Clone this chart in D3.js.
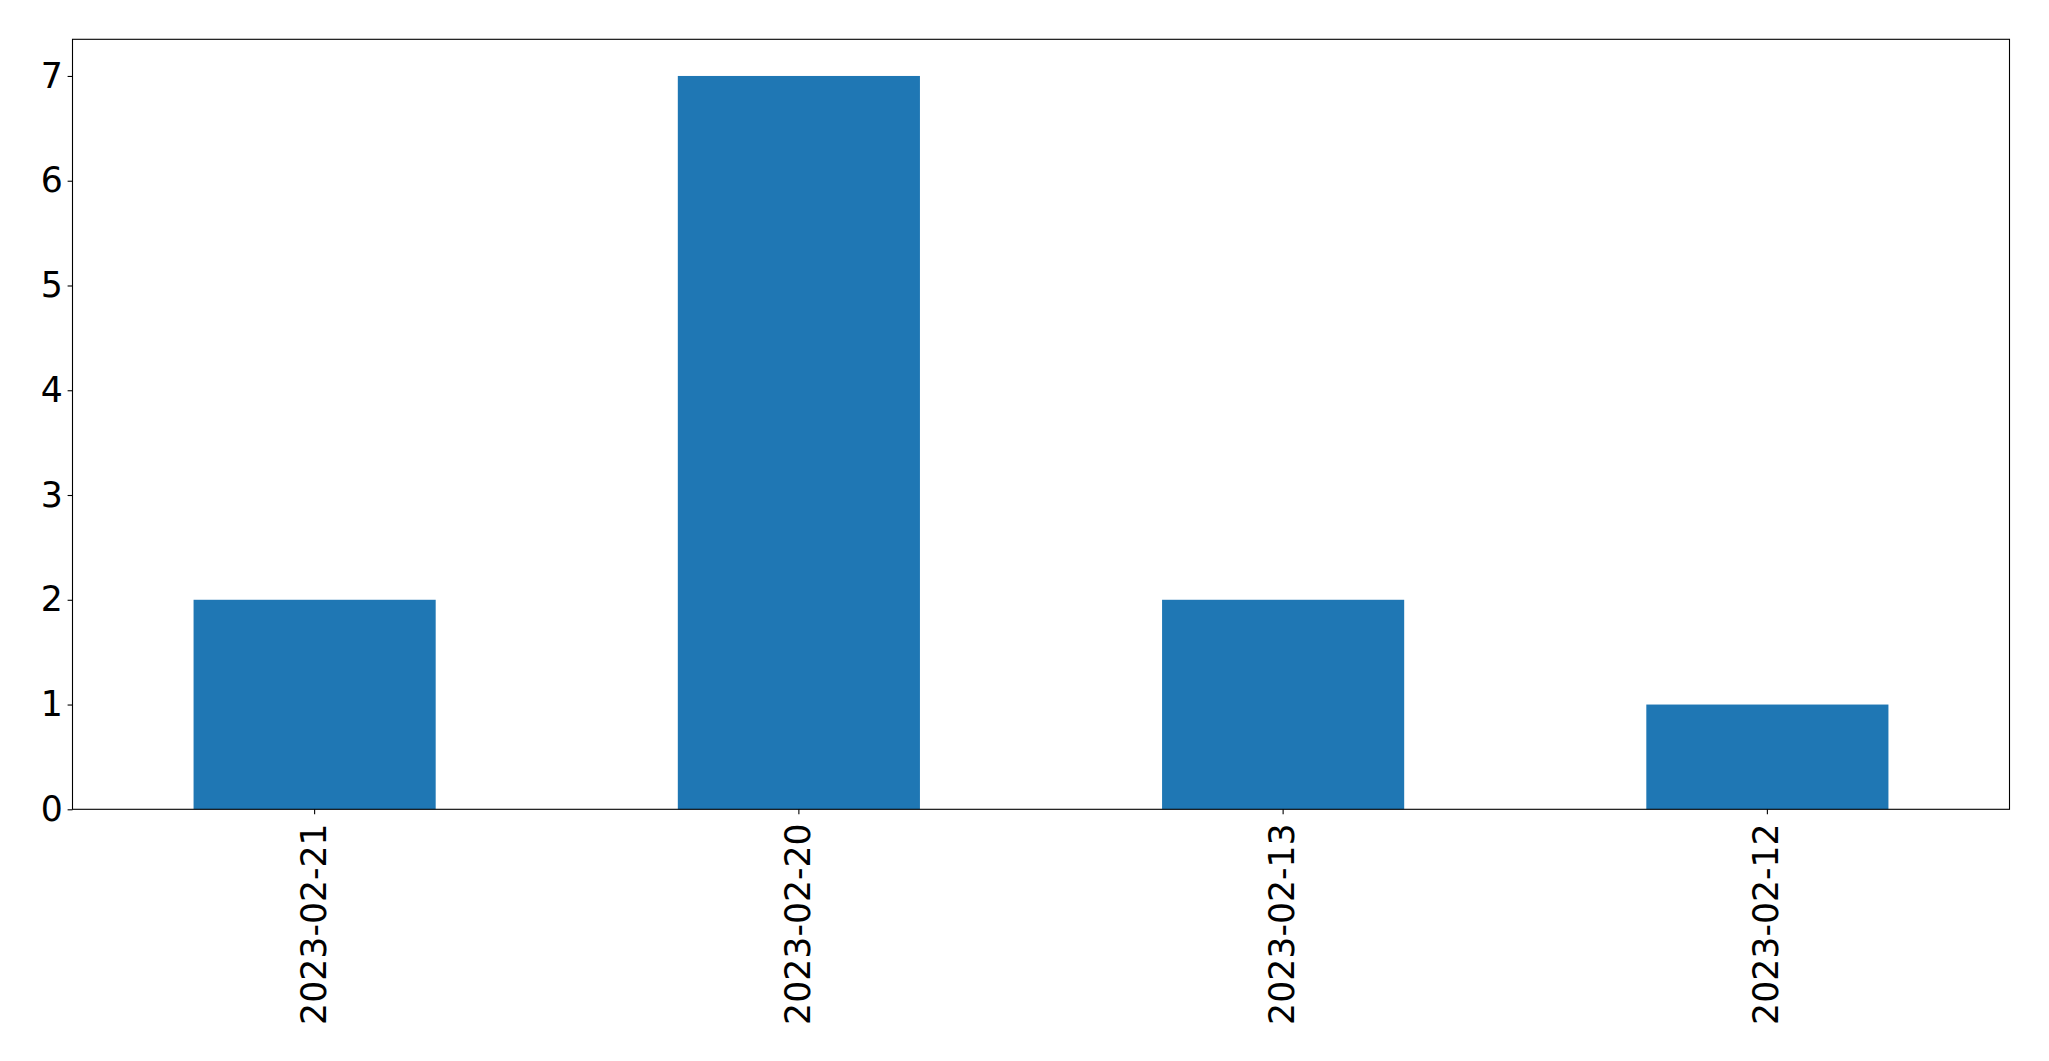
<!DOCTYPE html>
<html><head><meta charset="utf-8">
<script src="https://cdn.jsdelivr.net/npm/d3@7"></script>
<style>html,body{margin:0;padding:0;background:#fff;}svg{display:block;}</style>
</head><body>
<script>
const categories = ["2023-02-21", "2023-02-20", "2023-02-13", "2023-02-12"];
const values = [2, 7, 2, 1];
const yTicks = [0, 1, 2, 3, 4, 5, 6, 7];

const W = 2049, H = 1061;
const m = {left: 72.5, right: 2049 - 2009.5, top: 39.3, bottom: 1061 - 809.3};
const fs = 34.7;
const svg = d3.select("body").append("svg").attr("width", W).attr("height", H);

const x = d3.scaleBand().domain(categories).range([m.left, W - m.right]).paddingInner(0.5).paddingOuter(0.25);
const y = d3.scaleLinear().domain([0, 7.35]).range([H - m.bottom, m.top]);

svg.append("g").selectAll("rect").data(values).join("rect")
  .attr("x", (d, i) => x(categories[i]))
  .attr("width", x.bandwidth())
  .attr("y", d => y(d))
  .attr("height", d => y(0) - y(d))
  .attr("fill", "#1f77b4");

const yAxis = svg.append("g").attr("transform", `translate(${m.left},0)`)
  .call(d3.axisLeft(y).tickValues(yTicks).tickSize(4.9).tickPadding(4.9).tickFormat(d3.format("d")));
yAxis.select(".domain").remove();
yAxis.selectAll("line").attr("stroke", "#000").attr("stroke-width", 1.1);
yAxis.selectAll("text").attr("font-family", "DejaVu Sans").attr("font-size", fs).attr("fill", "#000");

const xAxis = svg.append("g").attr("transform", `translate(0,${H - m.bottom})`)
  .call(d3.axisBottom(x).tickSize(4.9).tickPadding(0));
xAxis.select(".domain").remove();
xAxis.selectAll("line").attr("stroke", "#000").attr("stroke-width", 1.1);
xAxis.selectAll("text")
  .attr("font-family", "DejaVu Sans").attr("font-size", fs).attr("fill", "#000")
  .attr("text-anchor", "end").attr("dy", null).attr("y", null)
  .attr("dominant-baseline", "central")
  .attr("transform", "translate(-1,14) rotate(-90)");

svg.append("rect").attr("x", m.left).attr("y", m.top)
  .attr("width", W - m.left - m.right).attr("height", H - m.top - m.bottom)
  .attr("fill", "none").attr("stroke", "#000").attr("stroke-width", 1.1);
</script>
</body></html>
